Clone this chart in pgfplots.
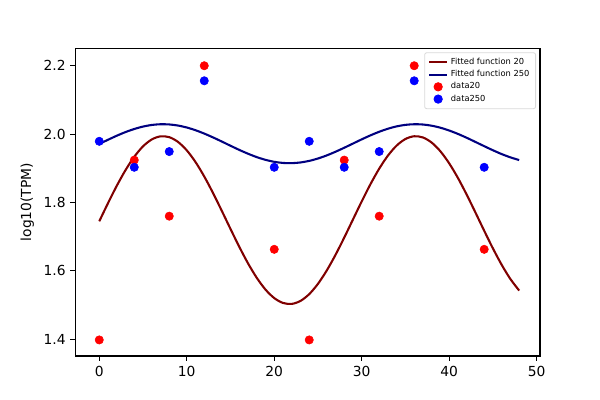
\documentclass[border=0pt]{standalone}
\usepackage{pgfplots}
\pgfplotsset{compat=1.18}
\usepackage{fontspec}
\setmainfont{DejaVu Sans}
\definecolor{maroonc}{HTML}{800000}
\definecolor{navyc}{HTML}{000080}
\pgfplotsset{
  lineleg/.style={legend image code/.code={\draw[##1] (0pt,0pt) -- (13pt,0pt);}},
  markleg/.style={legend image code/.code={\draw[##1] plot coordinates {(6.5pt,0pt)};}},
}
\begin{document}
\begin{tikzpicture}
\useasboundingbox (-0.753in,-0.44in) rectangle (5.247in,3.56in);
\begin{axis}[
  at={(0,0)}, anchor=south west,
  scale only axis, width=4.647in, height=3.077in,
  xmin=-2.74, xmax=50.38, ymin=1.351, ymax=2.251,
  xtick={0,10,20,30,40,50},
  ytick={1.4,1.6,1.8,2.0,2.2},
  yticklabel style={/pgf/number format/.cd,fixed,fixed zerofill,precision=1},
  /pgf/number format/assume math mode=true,
  tick label style={font=\fontsize{10}{12}\selectfont, black},
  tick align=outside, tick pos=left,
  major tick length=3.5pt,
  every tick/.style={black, line width=0.8pt},
  axis line style={black, line width=0.8pt},
  ylabel={log10(TPM)},
  ylabel style={font=\fontsize{10}{12}\selectfont},
  legend style={at={(0.9914,0.987)}, anchor=north east, draw=black!15, rounded corners=1.5pt,
    font=\fontsize{6}{6.5}\selectfont, row sep=0pt, inner sep=2.5pt, line width=0.6pt,
    nodes={inner xsep=2pt, inner ysep=1.4pt}},
  legend cell align=left,
]
\addplot[maroonc, line width=1.5pt, no markers, smooth, lineleg] coordinates {
(0,1.7450) (1,1.7981) (2,1.8488) (3,1.8947) (4,1.9338) (5,1.9642) (6,1.9844) (7,1.9935)
(8,1.9911) (9,1.9772) (10,1.9526) (11,1.9184) (12,1.8761) (13,1.8279) (14,1.7759) (15,1.7227)
(16,1.6706) (17,1.6222) (18,1.5798) (19,1.5453) (20,1.5204) (21,1.5062) (22,1.5034) (23,1.5121)
(24,1.5320) (25,1.5621) (26,1.6010) (27,1.6467) (28,1.6973) (29,1.7503) (30,1.8032) (31,1.8536)
(32,1.8990) (33,1.9373) (34,1.9667) (35,1.9858) (36,1.9938) (37,1.9902) (38,1.9752) (39,1.9496)
(40,1.9145) (41,1.8717) (42,1.8229) (43,1.7707) (44,1.7174) (45,1.6656) (46,1.6177) (47,1.5760)
(48,1.5424)};
\addlegendentry{Fitted function 20}
\addplot[navyc, line width=1.5pt, no markers, smooth, lineleg] coordinates {
(0,1.9712) (1,1.9835) (2,1.9953) (3,2.0060) (4,2.0150) (5,2.0221) (6,2.0268) (7,2.0289)
(8,2.0283) (9,2.0251) (10,2.0194) (11,2.0114) (12,2.0016) (13,1.9904) (14,1.9784) (15,1.9660)
(16,1.9539) (17,1.9427) (18,1.9328) (19,1.9248) (20,1.9190) (21,1.9157) (22,1.9151) (23,1.9171)
(24,1.9217) (25,1.9287) (26,1.9377) (27,1.9484) (28,1.9601) (29,1.9724) (30,1.9847) (31,1.9964)
(32,2.0069) (33,2.0158) (34,2.0227) (35,2.0271) (36,2.0289) (37,2.0281) (38,2.0246) (39,2.0187)
(40,2.0105) (41,2.0006) (42,1.9893) (43,1.9771) (44,1.9648) (45,1.9528) (46,1.9416) (47,1.9320)
(48,1.9241)};
\addlegendentry{Fitted function 250}
\addplot[only marks, color=red, mark=*, mark size=3bp, mark options={draw=red, fill=red}, markleg] coordinates {
(0,1.398) (4,1.924) (8,1.760) (12,2.200) (20,1.663) (24,1.398) (28,1.924) (32,1.760) (36,2.200) (44,1.663)};
\addlegendentry{data20}
\addplot[only marks, color=blue, mark=*, mark size=3bp, mark options={draw=blue, fill=blue}, markleg] coordinates {
(0,1.979) (4,1.903) (8,1.949) (12,2.156) (20,1.903) (24,1.979) (28,1.903) (32,1.949) (36,2.156) (44,1.903)};
\addlegendentry{data250}
\end{axis}
\end{tikzpicture}
\end{document}
